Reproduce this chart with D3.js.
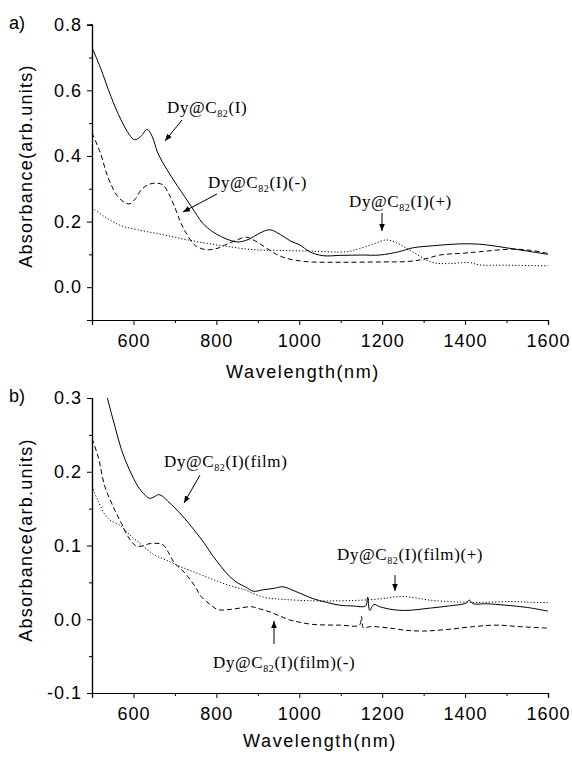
<!DOCTYPE html>
<html><head><meta charset="utf-8">
<script src="https://cdn.jsdelivr.net/npm/d3@7"></script>
<style>
body{margin:0;background:#fff;}
svg{display:block;}
.tick text{font-family:"Liberation Sans",Arial,sans-serif;font-size:18px;fill:#000;letter-spacing:1px;}
.ann{font-family:"Liberation Serif","Times New Roman",serif;font-size:17px;letter-spacing:0.6px;fill:#000;}
.lab{font-family:"Liberation Sans",Arial,sans-serif;font-size:18px;fill:#000;}
</style></head><body>
<svg id="c" width="572" height="758"></svg>
<script>
// ---------- data (wavelength nm, absorbance) ----------
const xTicksMajor = [600, 800, 1000, 1200, 1400, 1600];
const xTicksMinor = [500, 700, 900, 1100, 1300, 1500];
const yTicksTopMajor = [0.0, 0.2, 0.4, 0.6, 0.8];
const yTicksTopMinor = [-0.1, 0.1, 0.3, 0.5, 0.7];
const yTicksBotMajor = [-0.1, 0.0, 0.1, 0.2, 0.3];
const yTicksBotMinor = [-0.05, 0.05, 0.15, 0.25];

const topSolid = [[500,0.73],[520,0.67],[546,0.58],[570,0.51],[590,0.465],[603,0.449],[618,0.46],[633,0.481],[645,0.46],[659,0.408],[680,0.36],[707,0.307],[740,0.245],[767,0.195],[790,0.17],[812,0.154],[835,0.142],[855,0.138],[880,0.147],[905,0.165],[929,0.175],[955,0.16],[980,0.14],[1001,0.129],[1025,0.108],[1057,0.096],[1100,0.097],[1150,0.098],[1194,0.098],[1240,0.108],[1274,0.12],[1330,0.127],[1387,0.132],[1435,0.131],[1500,0.12],[1550,0.11],[1600,0.1]];
const topDashed = [[500,0.47],[520,0.41],[538,0.337],[560,0.28],[579,0.258],[591,0.254],[605,0.27],[619,0.297],[635,0.312],[651,0.317],[671,0.312],[685,0.285],[699,0.246],[713,0.2],[727,0.165],[747,0.129],[765,0.117],[780,0.114],[804,0.119],[820,0.128],[840,0.139],[873,0.152],[895,0.14],[921,0.119],[945,0.1],[969,0.088],[1017,0.078],[1100,0.076],[1200,0.077],[1258,0.078],[1300,0.085],[1339,0.098],[1400,0.104],[1435,0.108],[1514,0.116],[1560,0.112],[1600,0.103]];
const topDotted = [[500,0.242],[530,0.215],[571,0.187],[610,0.175],[651,0.165],[690,0.155],[731,0.144],[780,0.133],[827,0.124],[892,0.114],[953,0.112],[1030,0.11],[1114,0.108],[1146,0.118],[1180,0.132],[1210,0.144],[1235,0.135],[1258,0.119],[1290,0.095],[1322,0.075],[1360,0.072],[1411,0.075],[1435,0.068],[1500,0.067],[1600,0.065]];

const botSolid = [[525,0.33],[538,0.298],[555,0.262],[571,0.23],[590,0.203],[611,0.18],[625,0.17],[639,0.164],[650,0.166],[661,0.169],[672,0.166],[683,0.16],[700,0.151],[723,0.137],[745,0.122],[771,0.103],[790,0.087],[812,0.071],[832,0.058],[852,0.049],[870,0.044],[889,0.038],[913,0.04],[940,0.042],[961,0.044],[990,0.038],[1033,0.028],[1065,0.023],[1098,0.019],[1130,0.018],[1160,0.018],[1165,0.03],[1170,0.012],[1180,0.02],[1194,0.017],[1226,0.013],[1260,0.012],[1314,0.015],[1360,0.018],[1403,0.022],[1410,0.026],[1420,0.021],[1450,0.021],[1499,0.019],[1550,0.016],[1600,0.011]];
const botDashed = [[500,0.245],[515,0.22],[531,0.18],[555,0.148],[571,0.13],[587,0.112],[605,0.1],[619,0.099],[635,0.102],[651,0.103],[671,0.101],[685,0.09],[699,0.076],[715,0.068],[731,0.058],[748,0.045],[763,0.031],[785,0.02],[804,0.013],[827,0.013],[855,0.015],[884,0.017],[905,0.014],[929,0.01],[955,0.004],[977,-0.001],[1000,-0.004],[1033,-0.007],[1100,-0.008],[1145,-0.008],[1150,0.004],[1155,-0.012],[1170,-0.01],[1218,-0.012],[1258,-0.015],[1300,-0.016],[1354,-0.014],[1420,-0.01],[1475,-0.008],[1530,-0.01],[1600,-0.012]];
const botDotted = [[500,0.18],[515,0.16],[538,0.137],[571,0.126],[590,0.115],[611,0.105],[651,0.087],[680,0.08],[715,0.071],[760,0.061],[796,0.053],[830,0.046],[868,0.04],[913,0.03],[960,0.027],[1033,0.025],[1100,0.025],[1154,0.026],[1200,0.028],[1226,0.03],[1250,0.031],[1280,0.029],[1314,0.026],[1360,0.024],[1403,0.023],[1450,0.023],[1515,0.024],[1560,0.023],[1600,0.0225]];

// ---------- drawing ----------
const svg = d3.select("#c");
const defs = svg.append("defs");
defs.append("marker").attr("id","ah").attr("viewBox","0 0 10 10").attr("refX",10).attr("refY",5)
  .attr("markerWidth",7).attr("markerHeight",7).attr("markerUnits","userSpaceOnUse").attr("orient","auto")
  .append("path").attr("d","M0,1 L10,5 L0,9 Z").attr("fill","#000");

const x = d3.scaleLinear().domain([500,1600]).range([92,548]);
const styles = {solid:null, dashed:"5,3", dotted:"1.2,2"};
const fmtY = d => d3.format(".1f")(d).replace("\u2212","-");

function panel(id, y0, y1, yDomain, yMaj, yMin, series, label, xLabelX, xLabelY, yLabelY){
  const y = d3.scaleLinear().domain(yDomain).range([y1, y0]);
  const g = svg.append("g");
  defs.append("clipPath").attr("id","clip"+id).append("rect")
    .attr("x",92).attr("y",y0).attr("width",456).attr("height",y1-y0);

  g.append("g").attr("transform",`translate(0,${y1})`)
    .call(d3.axisBottom(x).tickValues(xTicksMajor).tickSize(5).tickPadding(9).tickFormat(d3.format("d")));
  g.append("g").attr("transform",`translate(0,${y1})`)
    .call(d3.axisBottom(x).tickValues(xTicksMinor).tickSize(3).tickFormat(""));
  g.append("g").attr("transform",`translate(92,0)`)
    .call(d3.axisLeft(y).tickValues(yMaj).tickSize(5).tickPadding(5).tickFormat(fmtY));
  g.append("g").attr("transform",`translate(92,0)`)
    .call(d3.axisLeft(y).tickValues(yMin).tickSize(3).tickFormat(""));
  g.selectAll(".domain").attr("stroke","#000").attr("stroke-width",1.2);
  g.selectAll(".tick line").attr("stroke","#000").attr("stroke-width",1);

  const line = d3.line().x(d=>x(d[0])).y(d=>y(d[1])).curve(d3.curveCatmullRom.alpha(0.5));
  const pg = g.append("g").attr("clip-path",`url(#clip${id})`);
  series.forEach(s=>{
    pg.append("path").datum(s.data).attr("d",line).attr("fill","none")
      .attr("stroke","#000").attr("stroke-width",1)
      .attr("stroke-dasharray",styles[s.style]);
  });

  svg.append("text").attr("class","lab").attr("x",9).attr("y",y0+4).text(label);
  svg.append("text").attr("class","lab").attr("x",xLabelX).attr("y",xLabelY)
    .attr("text-anchor","middle").style("letter-spacing","1.6px").text("Wavelength(nm)");
  svg.append("text").attr("class","lab").attr("transform",`translate(32,${yLabelY}) rotate(-90)`)
    .attr("text-anchor","middle").style("letter-spacing","1.25px").text("Absorbance(arb.units)");
  return y;
}

function ann(tx, ty, suffix, a){
  const t = svg.append("text").attr("class","ann").attr("x",tx).attr("y",ty);
  t.append("tspan").text("Dy@C");
  t.append("tspan").attr("dy",4).style("font-size","10px").text("82");
  t.append("tspan").attr("dy",-4).text("(I)"+suffix);
  svg.append("line").attr("x1",a[0]).attr("y1",a[1]).attr("x2",a[2]).attr("y2",a[3])
    .attr("stroke","#000").attr("stroke-width",1).attr("marker-end","url(#ah)");
}

panel("a", 24.7, 320, [-0.1,0.8], yTicksTopMajor, yTicksTopMinor,
  [{data:topSolid,style:"solid"},{data:topDashed,style:"dashed"},{data:topDotted,style:"dotted"}],
  "a)", 303, 378, 166);
panel("b", 398, 693, [-0.1,0.3], yTicksBotMajor, yTicksBotMinor,
  [{data:botSolid,style:"solid"},{data:botDashed,style:"dashed"},{data:botDotted,style:"dotted"}],
  "b)", 320, 747, 540);

ann(167, 113, "", [182,120,165,141]);
ann(208, 188, "(-)", [217,194,183,212]);
ann(349, 207, "(+)", [382,213,382,231]);
ann(164, 467, "(film)", [200,475,184,503]);
ann(213, 668, "(film)(-)", [274,644,274,621]);
ann(337, 560, "(film)(+)", [395,575,395,591]);
</script>
</body></html>
